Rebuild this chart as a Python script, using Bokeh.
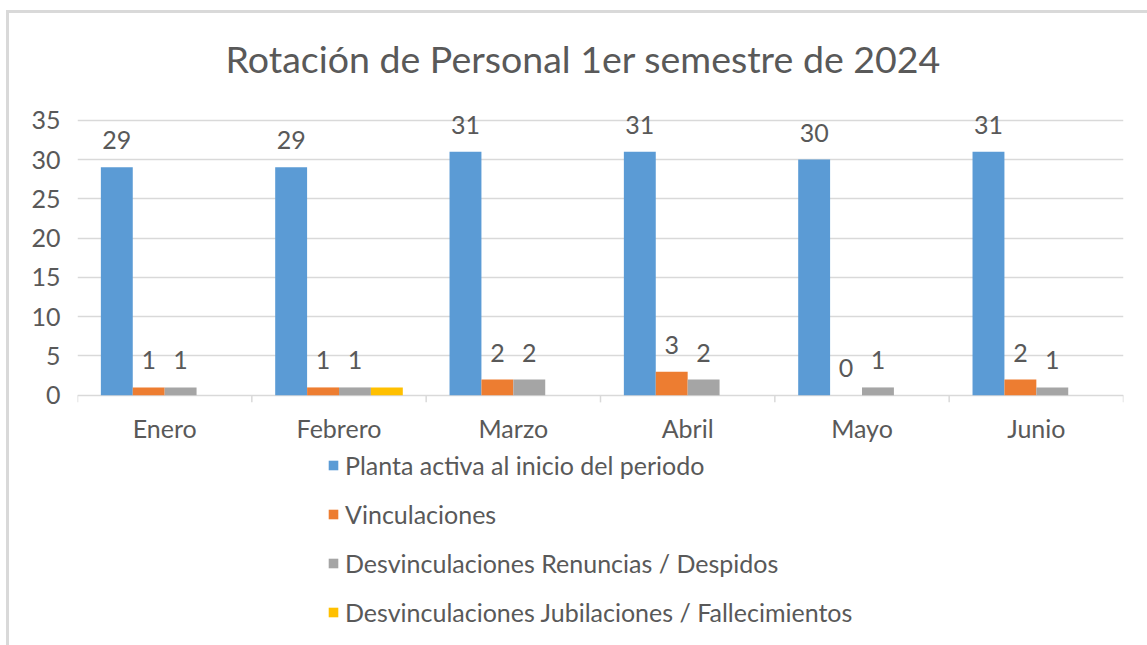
from bokeh.plotting import figure
from bokeh.models import (ColumnDataSource, FactorRange, Range1d, LabelSet, Legend,
                          LegendItem, FixedTicker)
from bokeh.core.properties import value
from bokeh.transform import dodge
from bokeh.embed import file_html
from bokeh.resources import INLINE

months = ["Enero", "Febrero", "Marzo", "Abril", "Mayo", "Junio"]
planta = [29, 29, 31, 31, 30, 31]
vinculaciones = [1, 1, 2, 3, 0, 2]
renuncias = [1, 1, 2, 2, 1, 1]
jubilaciones = [0, 1, 0, 0, 0, 0]
series_names = ["Planta activa al inicio del periodo", "Vinculaciones",
                "Desvinculaciones Renuncias / Despidos",
                "Desvinculaciones Jubilaciones / Fallecimientos"]
series_values = [planta, vinculaciones, renuncias, jubilaciones]
series_labelled = [True, True, True, False]
colors = ["#5B9BD5", "#ED7D31", "#A5A5A5", "#FFC000"]
y_ticks = [0, 5, 10, 15, 20, 25, 30, 35]
title_text = "Rotación de Personal 1er semestre de 2024"

FONT = "Lato"
TXT = "#595959"
GRID = "#D9D9D9"

# frame spans the plot plus the legend area below it (everything drawn inside the frame)
p = figure(width=1131, height=629, x_range=FactorRange(*months), y_range=Range1d(-29.8, 37),
           output_backend="svg", toolbar_location=None, x_axis_location=None,
           min_border_left=77, min_border_right=8, min_border_top=104, min_border_bottom=0,
           title=title_text)
p.outline_line_color = None
p.background_fill_color = "white"
p.border_fill_color = "white"

p.title.text_font = FONT
p.title.text_font_size = "37.5px"
p.title.text_font_style = "normal"
p.title.text_color = TXT
p.title.align = "left"
p.title.offset = 148
p.title.standoff = 48

# baseline (category axis line) and boundary ticks
tick_src = ColumnDataSource(dict(month=months, y0=[0] * len(months), y1=[-0.9] * len(months)))
p.segment(x0=dodge("month", -0.5, range=p.x_range), x1=dodge("month", -0.5, range=p.x_range),
          y0="y0", y1="y1", source=tick_src, line_color=GRID, line_width=1.5)
end_src = ColumnDataSource(dict(month=months[-1:], y0=[0], y1=[-0.9]))
p.segment(x0=dodge("month", 0.5, range=p.x_range), x1=dodge("month", 0.5, range=p.x_range),
          y0="y0", y1="y1", source=end_src, line_color=GRID, line_width=1.5)

bar_w = 0.183
offsets = [-1.5 * bar_w, -0.5 * bar_w, 0.5 * bar_w, 1.5 * bar_w]
items = []
for name, vals, col, off, lab in zip(series_names, series_values, colors, offsets, series_labelled):
    src = ColumnDataSource(dict(month=months, v=vals, txt=[str(v) for v in vals]))
    r = p.vbar(x=dodge("month", off, range=p.x_range), top="v", width=bar_w, source=src,
               fill_color=col, line_color=None)
    items.append(LegendItem(label=name, renderers=[r]))
    if lab:
        ls = LabelSet(x=dodge("month", off, range=p.x_range), y="v", text="txt", source=src,
                      text_align="center", text_baseline="middle", y_offset=27,
                      text_font=value(FONT), text_font_size=value("25px"), text_color=TXT)
        p.add_layout(ls)

# category labels under the baseline
cat_src = ColumnDataSource(dict(month=months, y=[0] * len(months)))
p.add_layout(LabelSet(x="month", y="y", text="month", source=cat_src, text_align="center",
                      text_baseline="middle", y_offset=-33, text_font=value(FONT),
                      text_font_size=value("25px"), text_color=TXT))

p.yaxis.ticker = FixedTicker(ticks=y_ticks)
p.yaxis.axis_line_color = None
p.yaxis.major_tick_line_color = None
p.yaxis.minor_tick_line_color = None
p.yaxis.major_tick_out = 0
p.yaxis.major_tick_in = 0
p.yaxis.major_label_standoff = 17
p.yaxis.major_label_text_font = FONT
p.yaxis.major_label_text_font_size = "25px"
p.yaxis.major_label_text_color = TXT

p.xgrid.grid_line_color = None
p.ygrid.grid_line_color = GRID
p.ygrid.grid_line_width = 1.5

legend = Legend(items=items, orientation="vertical", location=(250, 2),
                label_text_font=FONT, label_text_font_size="25px", label_text_color=TXT,
                glyph_width=12, glyph_height=12, label_standoff=6, spacing=19,
                padding=0, margin=0, border_line_color=None, background_fill_alpha=0)
p.add_layout(legend, "center")

html = file_html(p, INLINE)
# light-grey chart-area border (top and left edges, as in the reference crop)
border = ('<div style="position:fixed;left:6px;top:10px;width:1200px;height:700px;'
          'border-left:3px solid #D9D9D9;border-top:3px solid #D9D9D9;'
          'pointer-events:none;z-index:1000;background:transparent"></div>')
html = html.replace("</body>", border + "</body>", 1)
open("out.html", "w").write(html)
